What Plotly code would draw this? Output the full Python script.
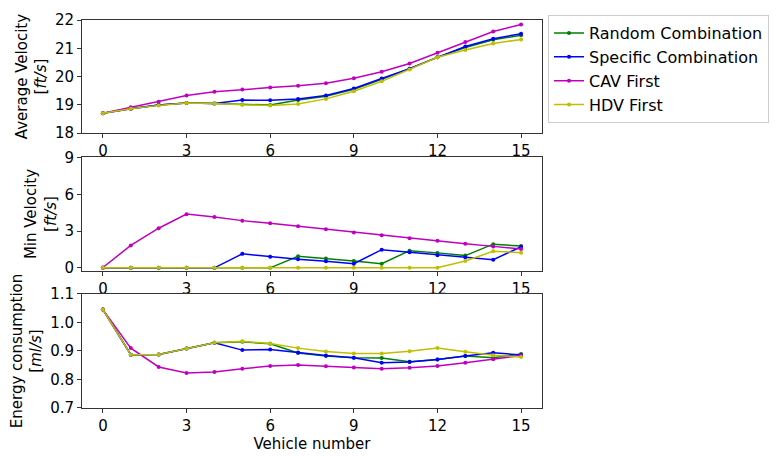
import plotly.graph_objects as go

vehicles = list(range(16))

avg_random = [18.70, 18.86, 18.99, 19.06, 19.05, 19.01, 18.99, 19.17, 19.30, 19.55, 19.90, 20.28, 20.68, 21.03, 21.30, 21.46]
avg_specific = [18.70, 18.86, 18.99, 19.06, 19.05, 19.17, 19.16, 19.21, 19.33, 19.58, 19.93, 20.28, 20.68, 21.06, 21.34, 21.51]
avg_cav = [18.70, 18.91, 19.11, 19.33, 19.46, 19.54, 19.61, 19.67, 19.76, 19.94, 20.17, 20.46, 20.84, 21.22, 21.59, 21.84]
avg_hdv = [18.70, 18.86, 18.98, 19.06, 19.05, 19.00, 18.98, 19.03, 19.21, 19.48, 19.83, 20.25, 20.68, 20.94, 21.17, 21.31]

min_random = [0, 0, 0, 0, 0, 0, 0, 0.95, 0.77, 0.56, 0.34, 1.40, 1.22, 1.00, 1.93, 1.78]
min_specific = [0, 0, 0, 0, 0, 1.14, 0.90, 0.71, 0.53, 0.34, 1.48, 1.27, 1.03, 0.87, 0.66, 1.72]
min_cav = [0.03, 1.83, 3.23, 4.38, 4.14, 3.85, 3.63, 3.39, 3.15, 2.89, 2.65, 2.41, 2.20, 1.96, 1.75, 1.54]
min_hdv = [0, 0, 0, 0, 0, 0, 0, 0, 0, 0, 0, 0, 0, 0.56, 1.35, 1.24]

en_random = [1.045, 0.887, 0.888, 0.909, 0.929, 0.932, 0.925, 0.893, 0.882, 0.876, 0.875, 0.862, 0.870, 0.882, 0.876, 0.889]
en_specific = [1.045, 0.887, 0.888, 0.909, 0.929, 0.903, 0.905, 0.895, 0.884, 0.876, 0.859, 0.861, 0.870, 0.882, 0.894, 0.886]
en_cav = [1.045, 0.910, 0.844, 0.823, 0.826, 0.838, 0.847, 0.851, 0.846, 0.842, 0.838, 0.841, 0.847, 0.859, 0.871, 0.884]
en_hdv = [1.045, 0.887, 0.888, 0.909, 0.929, 0.934, 0.926, 0.910, 0.898, 0.891, 0.891, 0.899, 0.910, 0.897, 0.885, 0.879]

names = ["Random Combination", "Specific Combination", "CAV First", "HDV First"]
colors = ["#008000", "#0000ff", "#bf00bf", "#bfbf00"]

panels = [
    (avg_random, avg_specific, avg_cav, avg_hdv),
    (min_random, min_specific, min_cav, min_hdv),
    (en_random, en_specific, en_cav, en_hdv),
]
axis_ids = [("x", "y"), ("x2", "y2"), ("x3", "y3")]

fig = go.Figure()
for p, (series, (xa, ya)) in enumerate(zip(panels, axis_ids)):
    for i, s in enumerate(series):
        fig.add_trace(go.Scatter(
            x=vehicles, y=s, mode="lines+markers", name=names[i],
            line=dict(color=colors[i], width=1.5),
            marker=dict(color=colors[i], size=4),
            xaxis=xa, yaxis=ya, showlegend=(p == 0),
        ))

font = dict(family="DejaVu Sans", size=15, color="black")
common_x = dict(range=[-0.75, 15.75], tickvals=[0, 3, 6, 9, 12, 15], showline=True,
                mirror=True, linecolor="#333", linewidth=1, ticks="outside",
                ticklen=4, tickcolor="#333", showgrid=False, zeroline=False,
                tickfont=font)
common_y = dict(showline=True, mirror=True, linecolor="#333", linewidth=1,
                ticks="outside", ticklen=4, tickcolor="#333", showgrid=False,
                zeroline=False, tickfont=font)

d1 = [(409 - 127) / 398, 1.0]
d2 = [(409 - 268) / 398, (409 - 152) / 398]
d3 = [0.0, (409 - 292) / 398]

fig.update_layout(
    width=781, height=457,
    margin=dict(l=82, r=239, t=11, b=48),
    paper_bgcolor="white", plot_bgcolor="white",
    font=font,
    xaxis=dict(common_x, domain=[0, 1], anchor="y"),
    xaxis2=dict(common_x, domain=[0, 1], anchor="y2"),
    xaxis3=dict(common_x, domain=[0, 1], anchor="y3",
                title=dict(text="Vehicle number", font=font, standoff=0)),
    yaxis=dict(common_y, domain=d1, anchor="x", range=[18, 22], dtick=1,
               title=dict(text="Average Velocity<br>[<i>ft/s</i>]", font=font, standoff=4)),
    yaxis2=dict(common_y, domain=d2, anchor="x2", range=[-0.22, 9], tickvals=[0, 3, 6, 9],
                title=dict(text="Min Velocity<br>[<i>ft/s</i>]", font=font, standoff=4)),
    yaxis3=dict(common_y, domain=d3, anchor="x3", range=[0.7, 1.1], dtick=0.1,
                tickformat=".1f",
                title=dict(text="Energy consumption<br>[<i>ml/s</i>]", font=font, standoff=4)),
    legend=dict(x=(548 - 82) / 460, y=(409 - 6) / 398, xanchor="left", yanchor="top",
                bordercolor="#cccccc", borderwidth=1, bgcolor="white",
                font=dict(family="DejaVu Sans", size=16, color="black"),
                tracegroupgap=0, itemwidth=30),
)

fig.write_html("out.html")
